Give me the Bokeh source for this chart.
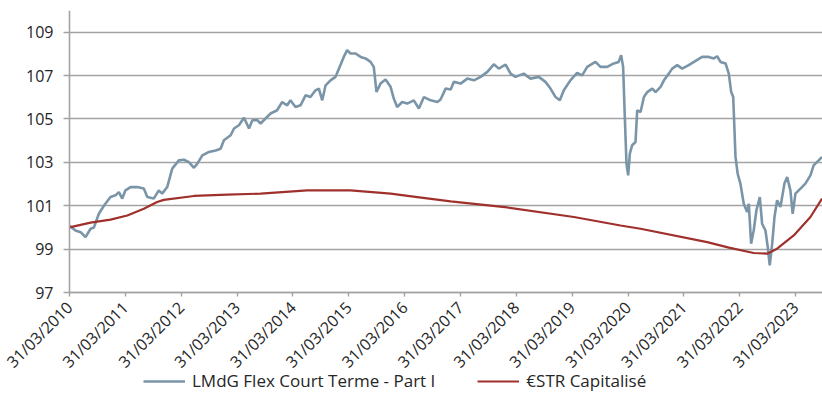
import pandas as pd
from bokeh.plotting import figure
from bokeh.models import (FixedTicker, DatetimeTickFormatter, Legend, LegendItem,
                          Range1d, Label, ColumnDataSource)
from bokeh.embed import file_html
from bokeh.resources import INLINE

# ---------------- data ----------------
title_text = "Performances annualisées"
series_names = ["LMdG Flex Court Terme - Part I", "€STR Capitalisé"]

fund_dates = [
    "2010-03-31", "2010-05-09", "2010-06-12", "2010-07-14", "2010-08-16", "2010-09-07",
    "2010-10-09", "2010-11-11", "2010-12-24", "2011-01-26", "2011-02-17", "2011-03-11",
    "2011-04-01", "2011-05-04", "2011-06-17", "2011-07-30", "2011-08-22", "2011-10-03",
    "2011-11-05", "2011-11-27", "2011-12-30", "2012-02-01", "2012-03-15", "2012-04-17",
    "2012-05-20", "2012-06-22", "2012-07-14", "2012-08-16", "2012-09-28", "2012-11-11",
    "2012-12-13", "2013-01-04", "2013-02-17", "2013-03-11", "2013-04-12", "2013-05-15",
    "2013-06-17", "2013-07-09", "2013-08-10", "2013-09-01", "2013-10-03", "2013-11-05",
    "2013-12-18", "2014-01-20", "2014-02-22", "2014-03-15", "2014-04-17", "2014-05-20",
    "2014-06-22", "2014-07-24", "2014-08-26", "2014-09-17", "2014-10-09", "2014-10-31",
    "2014-12-02", "2015-01-04", "2015-01-26", "2015-02-27", "2015-03-21", "2015-04-12",
    "2015-05-15", "2015-06-17", "2015-07-19", "2015-08-21", "2015-09-11", "2015-09-29",
    "2015-10-25", "2015-11-27", "2015-12-30", "2016-01-20", "2016-02-11", "2016-03-15",
    "2016-04-17", "2016-05-30", "2016-07-02", "2016-08-04", "2016-09-17", "2016-10-31",
    "2016-11-21", "2016-12-24", "2017-01-26", "2017-02-16", "2017-04-01", "2017-05-15",
    "2017-06-27", "2017-08-10", "2017-09-23", "2017-11-04", "2017-12-07", "2018-01-20",
    "2018-02-22", "2018-03-26", "2018-05-19", "2018-07-02", "2018-08-25", "2018-10-08",
    "2018-11-10", "2018-12-13", "2019-01-10", "2019-02-05", "2019-03-20", "2019-05-03",
    "2019-06-05", "2019-07-08", "2019-08-31", "2019-10-03", "2019-11-16", "2019-12-29",
    "2020-01-30", "2020-02-15", "2020-02-28", "2020-03-10", "2020-03-21", "2020-04-01",
    "2020-04-12", "2020-04-27", "2020-05-19", "2020-05-30", "2020-06-21", "2020-07-13",
    "2020-08-04", "2020-09-06", "2020-09-27", "2020-10-30", "2020-11-21", "2020-12-23",
    "2021-01-14", "2021-02-16", "2021-03-20", "2021-05-02", "2021-06-16", "2021-07-29",
    "2021-09-10", "2021-10-13", "2021-11-04", "2021-11-26", "2021-12-29", "2022-01-19",
    "2022-02-04", "2022-02-17", "2022-03-04", "2022-03-18", "2022-04-05", "2022-04-27",
    "2022-05-19", "2022-05-30", "2022-06-14", "2022-07-01", "2022-07-19", "2022-08-10",
    "2022-08-25", "2022-09-16", "2022-10-01", "2022-10-14", "2022-10-30", "2022-11-14",
    "2022-12-01", "2022-12-23", "2023-01-18", "2023-02-05", "2023-02-26", "2023-03-13",
    "2023-03-31", "2023-05-03", "2023-06-04", "2023-07-07", "2023-07-28", "2023-08-30",
    "2023-09-21",
]
fund_values = [
    100.08, 99.86, 99.78, 99.55, 99.94, 100.00,
    100.63, 101.00, 101.40, 101.48, 101.63, 101.33,
    101.71, 101.86, 101.86, 101.79, 101.40, 101.33,
    101.71, 101.56, 101.86, 102.71, 103.09, 103.12,
    103.01, 102.75, 102.94, 103.32, 103.48, 103.55,
    103.63, 104.02, 104.25, 104.56, 104.71, 105.06,
    104.56, 104.94, 104.95, 104.79, 105.02, 105.25,
    105.40, 105.78, 105.63, 105.86, 105.55, 105.63,
    106.09, 106.01, 106.32, 106.40, 105.86, 106.55,
    106.78, 106.94, 107.32, 107.86, 108.17, 108.02,
    108.02, 107.86, 107.79, 107.63, 107.40, 106.24,
    106.63, 106.82, 106.48, 105.94, 105.55, 105.78,
    105.71, 105.86, 105.48, 106.01, 105.86, 105.78,
    105.90, 106.40, 106.36, 106.71, 106.63, 106.86,
    106.78, 106.94, 107.17, 107.52, 107.32, 107.51,
    107.09, 106.94, 107.09, 106.86, 106.94, 106.71,
    106.40, 106.01, 105.86, 106.32, 106.78, 107.12,
    107.01, 107.40, 107.63, 107.40, 107.40, 107.56,
    107.63, 107.94, 107.40, 105.09, 102.94, 102.40,
    103.40, 103.79, 103.94, 105.40, 105.32, 106.01,
    106.24, 106.40, 106.24, 106.48, 106.78, 107.09,
    107.32, 107.48, 107.32, 107.48, 107.68, 107.86,
    107.86, 107.79, 107.89, 107.63, 107.56, 107.09,
    106.24, 106.01, 103.25, 102.48, 102.02, 101.09,
    100.71, 101.09, 99.25, 99.86, 100.79, 101.40,
    100.17, 99.86, 99.09, 98.25, 99.25, 100.48,
    101.25, 100.94, 102.02, 102.32, 101.71, 100.63,
    101.56, 101.79, 102.02, 102.40, 102.86, 103.09,
    103.25,
]

estr_dates = [
    "2010-03-31", "2010-08-16", "2010-12-24", "2011-04-13", "2011-07-30", "2011-10-25",
    "2011-12-08", "2012-06-22", "2013-01-26", "2013-09-01", "2014-07-03", "2015-04-12",
    "2015-12-30", "2016-06-22", "2017-01-26", "2018-01-31", "2019-04-12", "2020-02-11",
    "2020-06-21", "2021-08-31", "2022-01-20", "2022-07-01", "2022-09-27", "2022-12-01",
    "2023-03-20", "2023-07-07", "2023-09-21",
]
estr_values = [
    100.00, 100.22, 100.36, 100.55, 100.86, 101.17,
    101.27, 101.45, 101.51, 101.56, 101.71, 101.71,
    101.56, 101.40, 101.20, 100.92, 100.48, 100.09,
    99.94, 99.32, 99.07, 98.82, 98.79, 99.02,
    99.63, 100.48, 101.33,
]

tick_dates = [
    "2010-03-31", "2011-03-31", "2012-03-31", "2013-03-31", "2014-03-31",
    "2015-03-31", "2016-03-31", "2017-03-31", "2018-03-31", "2019-03-31",
    "2020-03-31", "2021-03-31", "2022-03-31", "2023-03-31",
]
y_ticks = [97, 99, 101, 103, 105, 107, 109]
y_axis_min, y_axis_max = 97, 110
x_axis_start, x_axis_end = "2010-03-31", "2023-09-24"

# ---------------- layout / styling ----------------
FONT = "Open Sans"
TEXT = "#262626"
GRID = "#a3a3a3"
FUND_COLOR = "#7b95a8"
ESTR_COLOR = "#a0302c"

W, H = 822, 409
TOP = 10
AXIS_X_PX = 69     # page x of the value axis
AXIS_Y_PX = 292    # page y of the time axis

# the frame covers the whole area left of / below the axes so that
# the axis labels and legend are drawn inside it
frame_h = H - TOP
px_per_unit = (AXIS_Y_PX - TOP) / (y_axis_max - y_axis_min)
y_lo = y_axis_max - frame_h / px_per_unit

t0 = pd.Timestamp(x_axis_start)
t1 = pd.Timestamp(x_axis_end)
t0_ms = t0.value / 1e6
t1_ms = t1.value / 1e6
ms_per_px = (t1_ms - t0_ms) / (W - AXIS_X_PX)
x_lo_ms = t0_ms - AXIS_X_PX * ms_per_px

fund_src = ColumnDataSource(dict(x=pd.to_datetime(fund_dates), y=fund_values))
estr_src = ColumnDataSource(dict(x=pd.to_datetime(estr_dates), y=estr_values))

p = figure(width=W, height=H, x_axis_type="datetime",
           output_backend="svg", toolbar_location=None,
           x_range=Range1d(x_lo_ms, t1_ms),
           y_range=Range1d(y_lo, y_axis_max),
           min_border_left=0, min_border_right=0, min_border_top=TOP,
           min_border_bottom=0)
p.outline_line_color = None
p.background_fill_color = "white"
p.border_fill_color = "white"

# horizontal grid lines, from the value axis to the right edge
p.xgrid.visible = False
grid = p.ygrid[0]
if "cross_bounds" in grid.properties():
    grid.grid_line_color = GRID
    grid.grid_line_width = 1.6
    grid.cross_bounds = (t0_ms, t1_ms)
else:
    grid.visible = False
    p.segment(x0=[t0_ms] * len(y_ticks), x1=[t1_ms] * len(y_ticks),
              y0=y_ticks, y1=y_ticks, line_color=GRID, line_width=1.6)

r_fund = p.line("x", "y", source=fund_src, color=FUND_COLOR, line_width=2.6)
r_estr = p.line("x", "y", source=estr_src, color=ESTR_COLOR, line_width=2.2)

# y axis, drawn at the start date
p.yaxis.fixed_location = t0_ms
p.yaxis.ticker = FixedTicker(ticks=y_ticks)
p.yaxis.bounds = (y_axis_min, y_axis_max)
p.yaxis.axis_line_color = GRID
p.yaxis.axis_line_width = 1.6
p.yaxis.major_tick_line_color = GRID
p.yaxis.major_tick_line_width = 1.4
p.yaxis.major_tick_out = 6
p.yaxis.major_tick_in = 0
p.yaxis.minor_tick_line_color = None
p.yaxis.major_label_standoff = 10
p.yaxis.major_label_text_font = FONT
p.yaxis.major_label_text_font_size = "16px"
p.yaxis.major_label_text_color = TEXT

# x axis, drawn at the value-axis minimum
tick_ms = [float(t) for t in (pd.to_datetime(tick_dates).astype("int64") // 10**6)]
p.xaxis.fixed_location = y_axis_min
p.xaxis.ticker = FixedTicker(ticks=tick_ms)
p.xaxis.bounds = (t0_ms, t1_ms)
fmt = "%d/%m/%Y"
p.xaxis.formatter = DatetimeTickFormatter(
    microseconds=fmt, milliseconds=fmt, seconds=fmt, minsec=fmt, minutes=fmt,
    hourmin=fmt, hours=fmt, days=fmt, months=fmt, years=fmt)
p.xaxis.axis_line_color = GRID
p.xaxis.axis_line_width = 1.6
p.xaxis.major_tick_line_color = GRID
p.xaxis.major_tick_line_width = 1.4
p.xaxis.major_tick_out = 4
p.xaxis.major_tick_in = 0
p.xaxis.minor_tick_line_color = None
p.xaxis.major_label_orientation = 0.785398
p.xaxis.major_label_standoff = 8
p.xaxis.major_label_text_font = FONT
p.xaxis.major_label_text_font_size = "16px"
p.xaxis.major_label_text_color = TEXT

# legend
legend = Legend(items=[LegendItem(label=series_names[0], renderers=[r_fund]),
                       LegendItem(label=series_names[1], renderers=[r_estr])],
                orientation="horizontal", location=(143, 17),
                glyph_width=42, glyph_height=20, label_standoff=7, spacing=42,
                padding=0, margin=0, border_line_color=None,
                background_fill_alpha=0,
                label_text_font=FONT, label_text_font_size="17px",
                label_text_color=TEXT)
p.add_layout(legend, "center")

# partially visible title at top (as in the reference crop)
p.add_layout(Label(x=20, y=frame_h + 7, x_units="screen", y_units="screen",
                   text=title_text, text_font=FONT, text_font_size="14px",
                   text_color=TEXT, text_baseline="bottom"))

open("out.html", "w").write(file_html(p, INLINE))
